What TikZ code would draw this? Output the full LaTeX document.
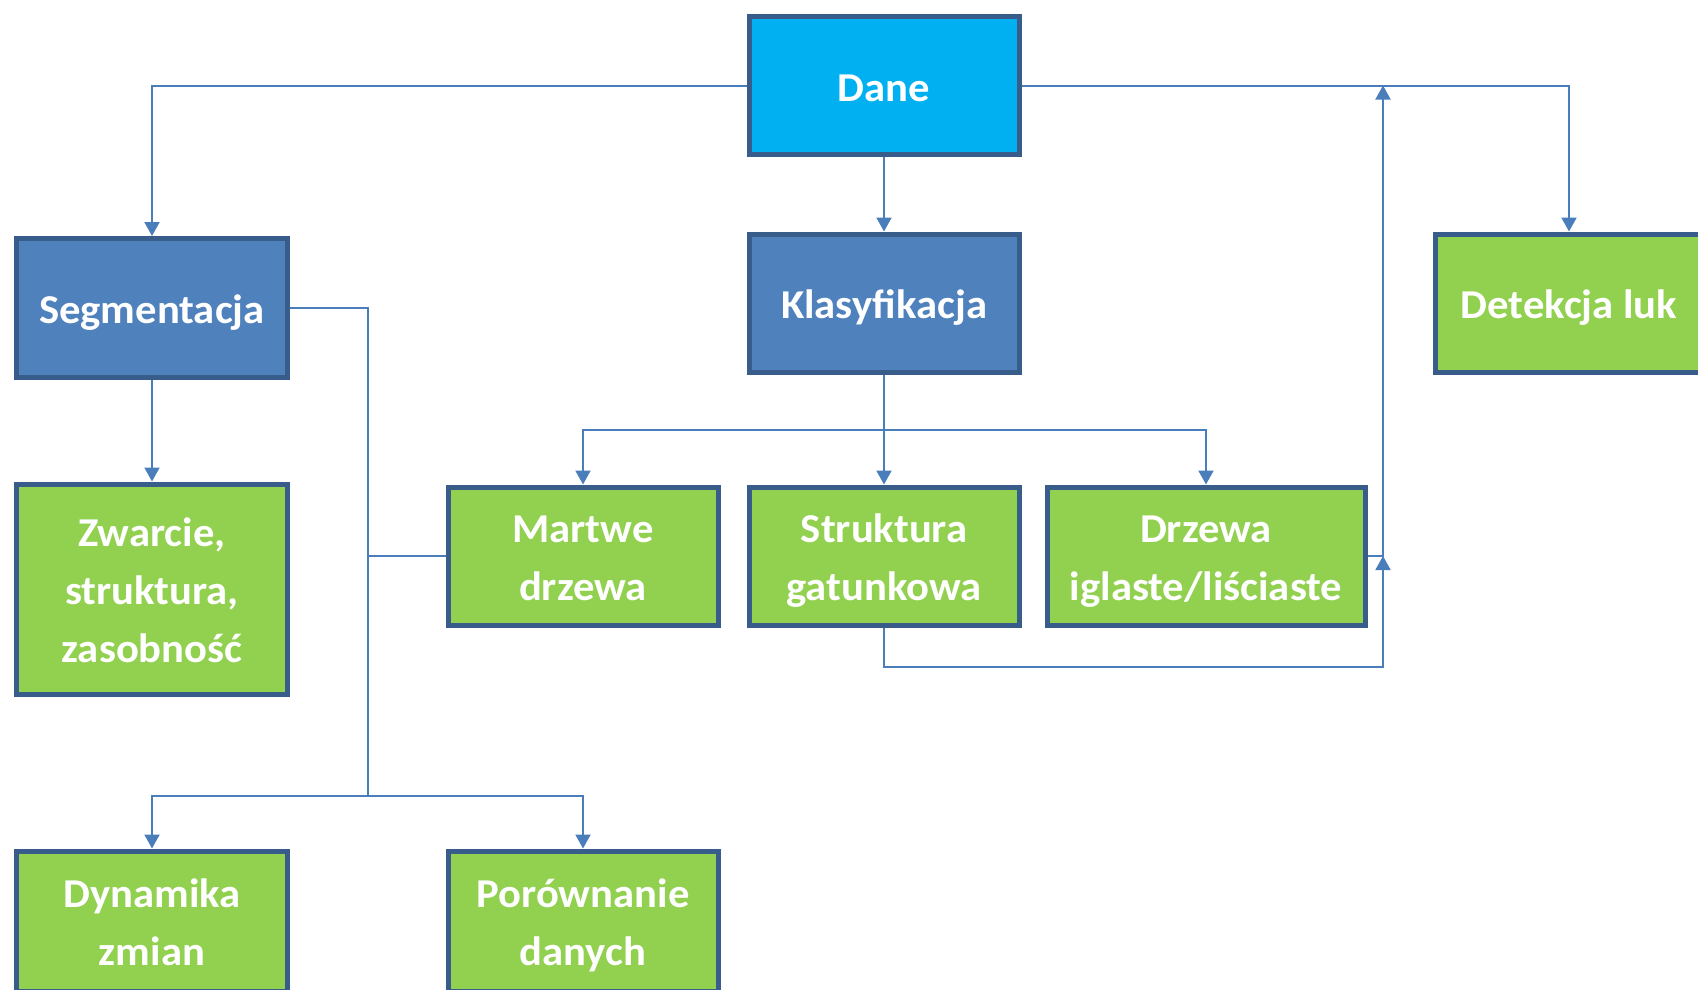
\documentclass[tikz,border=0pt]{standalone}
\usepackage{fontspec}
\setmainfont{Carlito}[FakeStretch=1.04]
\usetikzlibrary{arrows.meta}
\definecolor{daneblue}{HTML}{00B0F0}
\definecolor{midblue}{HTML}{4F81BD}
\definecolor{leafgreen}{HTML}{92D050}
\definecolor{edgeblue}{HTML}{385D8A}
\definecolor{wireblue}{HTML}{4A7EBB}
\newcommand\ls{\rule[-12pt]{0pt}{55pt}}
\newcommand\nextline{\\\ls}
\tikzset{
  box/.style={draw=edgeblue, line width=5pt, inner sep=0pt, minimum width=270pt, minimum height=138pt,
    text=white, align=center, font=\fontsize{41}{58.2}\selectfont\bfseries},
  topbox/.style={box, fill=daneblue},
  bluebox/.style={box, fill=midblue},
  greenbox/.style={box, fill=leafgreen},
  wire/.style={draw=wireblue, line width=2pt},
  arrowwire/.style={wire, -{Triangle[width=15pt,length=14pt]}}
}
\begin{document}
\begin{tikzpicture}[x=1pt,y=-1pt]
\useasboundingbox (0,0) rectangle (1698,989);
\clip (0,0) rectangle (1698,989);
\node[topbox] (dane) at (884,85.5) {\ls Dane};
\node[bluebox] (kla) at (884,303) {\ls Klasyfikacja};
\node[bluebox, minimum width=271pt, minimum height=139pt] (seg) at (152,308) {\ls Segmentacja};
\node[greenbox, minimum width=268pt] (det) at (1569,303) {\ls Detekcja luk};
\node[greenbox, minimum width=271pt, minimum height=210pt] (zwa) at (152,589) {\ls Zwarcie,\nextline struktura,\nextline zasobność};
\node[greenbox] (mar) at (583,556) {\ls Martwe\nextline drzewa};
\node[greenbox] (str) at (884,556) {\ls Struktura\nextline gatunkowa};
\node[greenbox, minimum width=318pt] (drz) at (1206,556) {\ls Drzewa\nextline iglaste/liściaste};
\node[greenbox, minimum width=271pt, minimum height=140pt] (dyn) at (152,921) {\ls Dynamika\nextline zmian};
\node[greenbox, minimum height=140pt] (por) at (583,921) {\ls Porównanie\nextline danych};

\coordinate (kbus) at (884,430);
\coordinate (sv) at (368,796);
\coordinate (rv) at (1383,667);

\draw[arrowwire] (dane.west) -| (seg.north);
\draw[arrowwire] (dane.east) -| (det.north);
\draw[arrowwire] (dane.south) -- (kla.north);

\draw[wire] (kla.south) -- (kbus);
\draw[arrowwire] (kbus) -| (mar.north);
\draw[arrowwire] (kbus) -- (str.north);
\draw[arrowwire] (kbus) -| (drz.north);

\draw[arrowwire] (seg.south) -- (zwa.north);
\draw[wire] (seg.east) -| (sv);
\draw[wire] (mar.west) -- (mar.west -| sv);
\draw[arrowwire] (sv) -| (dyn.north);
\draw[arrowwire] (sv) -| (por.north);

\draw[arrowwire] (str.south) |- (rv) -- (rv |- drz.east);
\draw[arrowwire] (drz.east) -| (rv |- dane.east);
\end{tikzpicture}
\end{document}
